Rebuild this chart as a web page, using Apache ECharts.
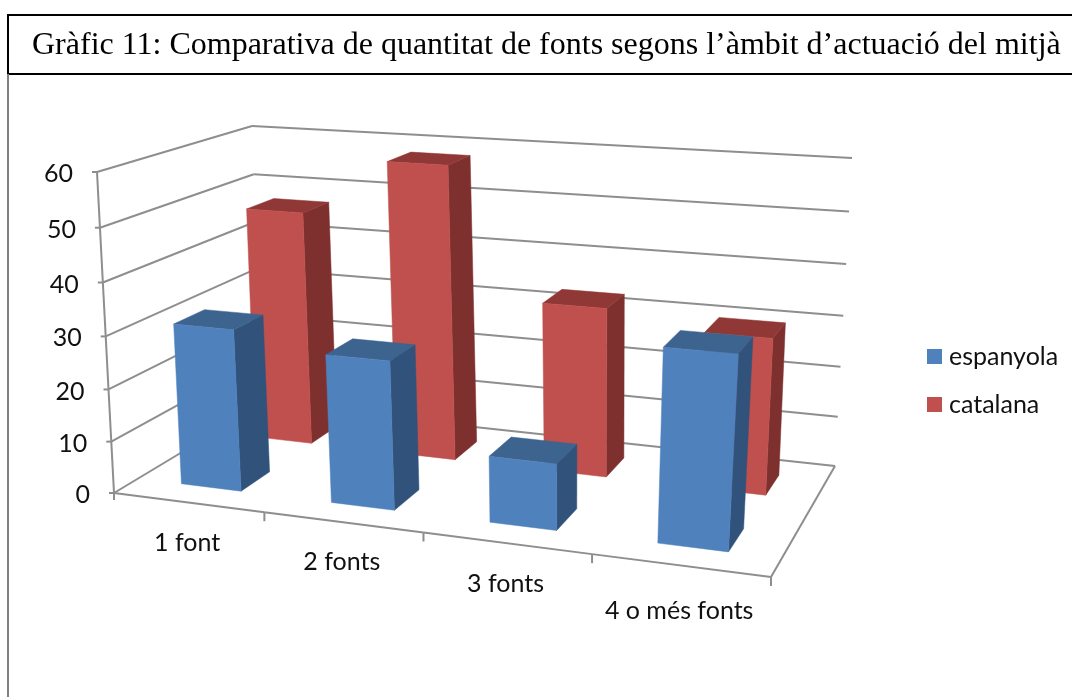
<!DOCTYPE html>
<html><head><meta charset="utf-8">
<style>html,body{margin:0;padding:0;background:#fff}#c{width:1072px;height:697px}</style>
<script src="https://cdn.jsdelivr.net/npm/echarts@6/dist/echarts.min.js"></script>
</head><body><div id="c"></div>
<script>
const titleText = 'Gràfic 11: Comparativa de quantitat de fonts segons l’àmbit d’actuació del mitjà';
const categories = ['1 font', '2 fonts', '3 fonts', '4 o més fonts'];
const espanyola = [31, 28, 12.3, 35];
const catalana = [47, 58, 33, 30];
const yTicks = [0, 10, 20, 30, 40, 50, 60];

// perspective box (screen corners of the floor and ceiling planes)
const floorQuad = [[114,493],[771,577],[835,466],[262,404]];
const ceilQuad  = [[97,172],[796,220],[852,158],[252,126]];
const VK = 1.05, GAP = 0.298;
const ROWS = {espanyola:[0.145,0.34], catalana:[0.65,0.85]};
const GRID = {left:100, top:100, width:700, height:400};
const LABEL_DROP = [40,40,41,46];
const AXIS = '#8e8e8e';
const FONT = 'Lato';

function homography(q){
  const [p0,p1,p2,p3]=q;
  const dx1=p1[0]-p2[0],dx2=p3[0]-p2[0],dx3=p0[0]-p1[0]+p2[0]-p3[0];
  const dy1=p1[1]-p2[1],dy2=p3[1]-p2[1],dy3=p0[1]-p1[1]+p2[1]-p3[1];
  const det=dx1*dy2-dx2*dy1;
  const g=(dx3*dy2-dx2*dy3)/det,h=(dx1*dy3-dx3*dy1)/det;
  const a=p1[0]-p0[0]+g*p1[0],b=p3[0]-p0[0]+h*p3[0],c=p0[0];
  const d=p1[1]-p0[1]+g*p1[1],e=p3[1]-p0[1]+h*p3[1],f=p0[1];
  return (u,w)=>{const s=g*u+h*w+1;return [(a*u+b*w+c)/s,(d*u+e*w+f)/s];};
}
const floorH=homography(floorQuad), ceilH=homography(ceilQuad);
function project(u,w,t){
  const k=t/(VK-(VK-1)*t);
  const A=floorH(u,w),B=ceilH(u,w);
  return [A[0]+(B[0]-A[0])*k,A[1]+(B[1]-A[1])*k];
}
// reads the scales of the (hidden) cartesian axes and turns pixels into box fractions
function frac(api,params,cat,val){
  const cs=params.coordSys,p=api.coord([cat,val]);
  return {u:(p[0]-cs.x)/cs.width,t:(cs.y+cs.height-p[1])/cs.height};
}
function poly(points,fill){
  return {type:'polygon',shape:{points},style:{fill,stroke:fill,lineWidth:0.5}};
}
function barRenderer(row,front,side,top){
  return function(params,api){
    const cat=api.value(0),val=api.value(1);
    const f=frac(api,params,cat,val);
    const step=frac(api,params,0,0);
    const half=step.u, u0=f.u-half+2*half*GAP, u1=f.u+half-2*half*GAP;
    const [w0,w1]=row,t=f.t;
    const P=(u,w,h)=>project(u,w,h);
    return {type:'group',children:[
      poly([P(u1,w0,0),P(u1,w1,0),P(u1,w1,t),P(u1,w0,t)],side),
      poly([P(u0,w0,t),P(u1,w0,t),P(u1,w1,t),P(u0,w1,t)],top),
      poly([P(u0,w0,0),P(u1,w0,0),P(u1,w0,t),P(u0,w0,t)],front)
    ]};
  };
}
function line(a,b){return {type:'line',shape:{x1:a[0],y1:a[1],x2:b[0],y2:b[1]},style:{stroke:AXIS,lineWidth:2}};}
function wallRenderer(params,api){
  const v=api.value(1),t=frac(api,params,0,v).t;
  const fl=project(0,0,t),bl=project(0,1,t),br=project(1,1,t);
  const ch=[
    line(fl,bl),line(bl,br),line([fl[0]-5,fl[1]],fl),
    {type:'text',style:{text:String(v),x:fl[0]-24,y:fl[1]+2,align:'right',verticalAlign:'middle',font:'25px '+FONT,fill:'#111'}}
  ];
  if(v<yTicks[yTicks.length-1]) ch.push(line(fl,project(0,0,frac(api,params,0,v+(yTicks[1]-yTicks[0])).t)));
  return {type:'group',children:ch};
}
function floorRenderer(params,api){
  const cat=api.value(0);
  const half=frac(api,params,0,0).u;
  const uc=frac(api,params,cat,0).u;
  const a=project(uc-half,0,0),b=project(uc+half,0,0),m=project(uc,0,0);
  const ch=[line(a,b),line(b,[b[0],b[1]+9]),
    {type:'text',style:{text:categories[cat],x:m[0]-1,y:m[1]+LABEL_DROP[cat],align:'center',verticalAlign:'middle',font:'25px '+FONT,fill:'#111'}}];
  if(cat===0) ch.push(line(a,[a[0],a[1]+7]));
  if(cat===categories.length-1) ch.push(line(b,project(1,1,0)));
  return {type:'group',children:ch};
}
const chart=echarts.init(document.getElementById('c'),null,{renderer:'canvas'});
chart.setOption({
  animation:false,backgroundColor:'#fff',
  title:{text:titleText,left:32,top:30,textStyle:{fontFamily:'Liberation Serif',fontSize:32,fontWeight:'normal',color:'#000'},padding:0},
  legend:{orient:'vertical',left:922,top:339,itemWidth:15,itemHeight:15,itemGap:23,icon:'rect',
    data:['espanyola','catalana'],textStyle:{fontFamily:FONT,fontSize:25,color:'#111',padding:[0,0,0,2]}},
  graphic:[
    {type:'rect',silent:true,z:-1,shape:{x:8,y:15,width:1070,height:59},style:{fill:'none',stroke:'#000',lineWidth:2}},
    {type:'line',silent:true,z:-1,shape:{x1:8,y1:74,x2:8,y2:697},style:{stroke:'#808080',lineWidth:2}}
  ],
  grid:GRID,
  xAxis:{type:'category',data:categories,show:false},
  yAxis:{type:'value',min:0,max:60,interval:10,show:false},
  series:[
    {type:'custom',name:'frame',silent:true,z:1,coordinateSystem:'cartesian2d',renderItem:wallRenderer,data:yTicks.map(v=>[0,v]),encode:{x:0,y:1}},
    {type:'custom',name:'base',silent:true,z:1,coordinateSystem:'cartesian2d',renderItem:floorRenderer,data:categories.map((c,i)=>[i,0]),encode:{x:0,y:1}},
    {type:'custom',name:'espanyola',z:4,coordinateSystem:'cartesian2d',itemStyle:{color:'#4F81BD'},
      renderItem:barRenderer(ROWS.espanyola,'#4F81BD','#31527A','#3D638F'),data:espanyola.map((v,i)=>[i,v]),encode:{x:0,y:1}},
    {type:'custom',name:'catalana',z:3,coordinateSystem:'cartesian2d',itemStyle:{color:'#C0504D'},
      renderItem:barRenderer(ROWS.catalana,'#C0504D','#7E302F','#8F3836'),data:catalana.map((v,i)=>[i,v]),encode:{x:0,y:1}}
  ]
});
</script></body></html>
